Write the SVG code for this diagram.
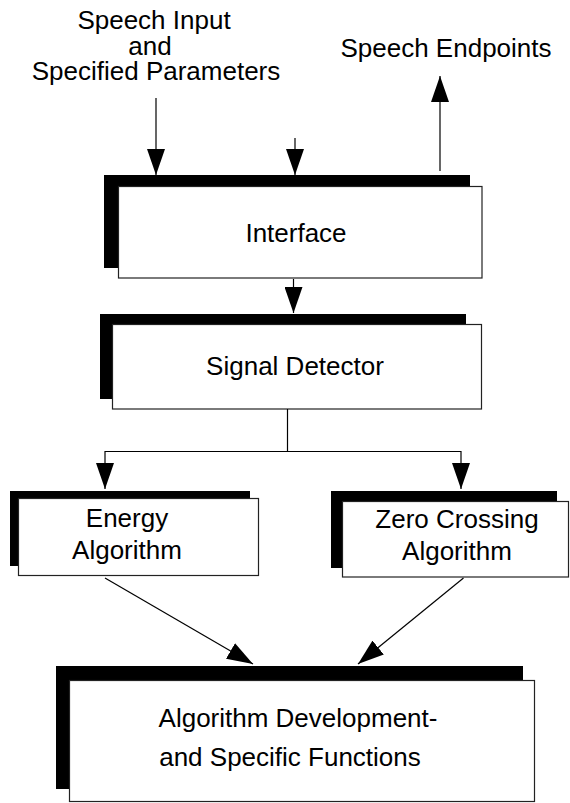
<svg xmlns="http://www.w3.org/2000/svg" width="570" height="803" viewBox="0 0 570 803">
<style>
text{font-family:"Liberation Sans",Arial,sans-serif;font-size:26px;fill:#000;text-anchor:middle}
.sh{fill:#000}
.bx{fill:#fff;stroke:#222;stroke-width:1.2}
.ln{stroke:#000;stroke-width:1.2;fill:none}
</style>
<defs>
<marker id="ah" markerUnits="userSpaceOnUse" viewBox="0 0 26 18" refX="26" refY="9" markerWidth="26" markerHeight="18" orient="auto">
<path d="M0,0 L26,9 L0,18 Z" fill="#000"/>
</marker>
</defs>
<rect width="570" height="803" fill="#fff"/>
<g id="labels">
<text x="154" y="29">Speech Input</text>
<text x="150" y="55">and</text>
<text x="156" y="80">Specified Parameters</text>
<text x="446" y="57">Speech Endpoints</text>
</g>
<g id="interface">
<rect class="sh" x="104" y="175" width="366" height="93"/>
<rect class="bx" x="118.5" y="186.5" width="363.5" height="91.5"/>
<text x="296" y="242">Interface</text>
</g>
<g id="signal-detector">
<rect class="sh" x="100" y="314" width="366" height="85"/>
<rect class="bx" x="112.5" y="324.5" width="369" height="84.5"/>
<text x="295" y="375">Signal Detector</text>
</g>
<g id="energy">
<rect class="sh" x="10" y="491" width="240" height="75"/>
<rect class="bx" x="18.5" y="498.5" width="240" height="77"/>
<text x="127" y="527">Energy</text>
<text x="127" y="559">Algorithm</text>
</g>
<g id="zero-crossing">
<rect class="sh" x="331" y="491" width="226" height="77"/>
<rect class="bx" x="342.5" y="501.5" width="226" height="75.5"/>
<text x="457" y="528">Zero Crossing</text>
<text x="457" y="560">Algorithm</text>
</g>
<g id="algorithm-development">
<rect class="sh" x="56" y="666" width="467" height="123"/>
<rect class="bx" x="69.5" y="680.5" width="465" height="121"/>
<text x="298" y="727">Algorithm Development-</text>
<text x="290" y="766">and Specific Functions</text>
</g>
<g id="connectors">
<line class="ln" x1="156" y1="98" x2="156" y2="175" marker-end="url(#ah)"/>
<line class="ln" x1="295" y1="138" x2="295" y2="175" marker-end="url(#ah)"/>
<line class="ln" x1="440" y1="171" x2="440" y2="76" marker-end="url(#ah)"/>
<line class="ln" x1="293.5" y1="279" x2="293.5" y2="313" marker-end="url(#ah)"/>
<line class="ln" x1="287.5" y1="409" x2="287.5" y2="451.5"/>
<line class="ln" x1="105" y1="451.5" x2="461" y2="451.5"/>
<line class="ln" x1="105" y1="451" x2="105" y2="489" marker-end="url(#ah)"/>
<line class="ln" x1="461" y1="451" x2="461" y2="489" marker-end="url(#ah)"/>
<line class="ln" x1="105" y1="578" x2="253" y2="664" marker-end="url(#ah)"/>
<line class="ln" x1="463.5" y1="578" x2="358" y2="664" marker-end="url(#ah)"/>
</g>
</svg>
